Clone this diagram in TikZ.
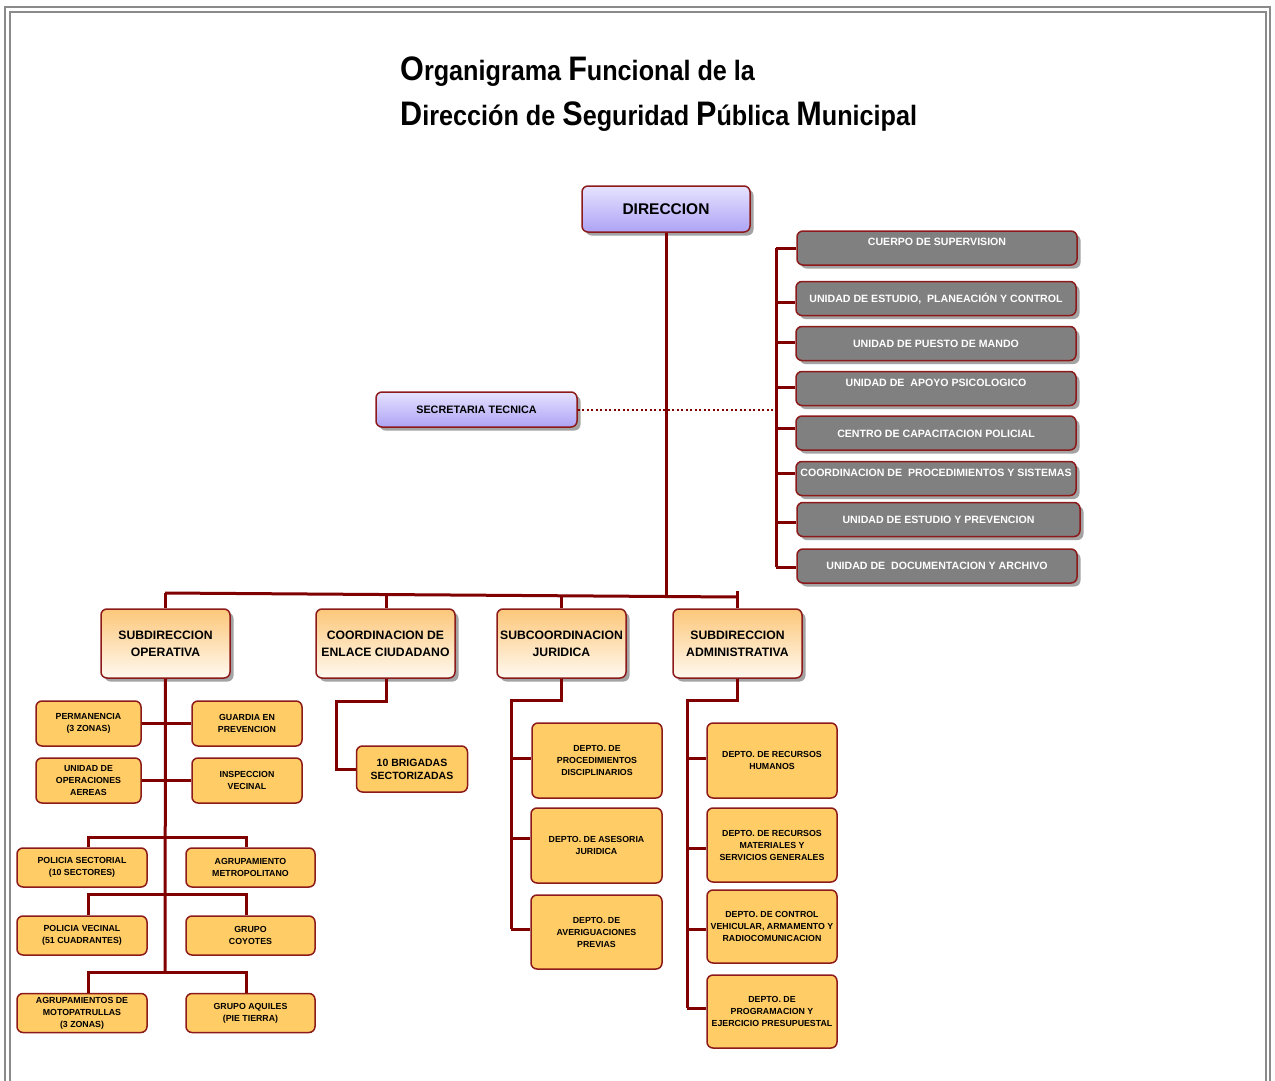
\documentclass[tikz,border=0pt]{standalone}
\usepackage{fontspec}
\setmainfont{Liberation Sans}
\newfontfamily\titlefont{Liberation Sans}[FakeStretch=0.9]
\usetikzlibrary{shadows}
\definecolor{conn}{HTML}{800000}
\definecolor{bord}{HTML}{8C1A1A}
\definecolor{grayfill}{HTML}{808080}
\definecolor{yfill}{HTML}{FFCC66}
\definecolor{lavtop}{HTML}{E6E2FF}
\definecolor{lavbot}{HTML}{ADA3F5}
\definecolor{ortop}{HTML}{FCC77A}
\definecolor{orbot}{HTML}{FFF9F0}
\definecolor{frame}{HTML}{8A8A8A}
\newcommand\BigL[1]{{\fontsize{34}{34}\selectfont #1}}
\begin{document}
\begin{tikzpicture}[x=1pt,y=-1pt,
  boxbase/.style={draw=bord, line width=1.5pt, rounded corners=6pt, align=center, inner sep=0pt, font=\bfseries},
  shad/.style={drop shadow={shadow xshift=3.5pt, shadow yshift=-3.5pt, fill=black!45, opacity=0.8}},
  lavbox/.style={boxbase, shad, top color=lavtop, bottom color=lavbot},
  graybox/.style={boxbase, shad, fill=grayfill, minimum width=280pt, minimum height=34pt},
  graytxt/.style={font=\bfseries\fontsize{10.6}{12}\selectfont, text=white, inner sep=0pt},
  subbox/.style={boxbase, shad, top color=ortop, bottom color=orbot, minimum height=69pt, font=\bfseries\fontsize{12.2}{17}\selectfont},
  ybox/.style={boxbase, fill=yfill, font=\bfseries\fontsize{8.8}{12}\selectfont},
  link/.style={draw=conn, line width=3pt},
  titletxt/.style={anchor=base west, inner sep=0pt, font=\titlefont\bfseries\fontsize{28}{28}\selectfont},
]
\useasboundingbox (0,0) rectangle (1275,1081);
% frame
\draw[frame, line width=1.6pt] (5,7) rectangle (1270,1090);
\draw[frame, line width=1.6pt] (10,12) rectangle (1266,1090);

% title
\node[titletxt] (t1) at (400,81) {\BigL{O}rganigrama \BigL{F}uncional de la};
\node[titletxt] (t2) at (400,125) {\BigL{D}irección de \BigL{S}eguridad \BigL{P}ública \BigL{M}unicipal};

% direccion and secretaria
\node[lavbox, minimum width=168pt, minimum height=46pt, font=\bfseries\fontsize{15.5}{18}\selectfont] (dir) at (666,209) {DIRECCION};
\node[lavbox, minimum width=201pt, minimum height=35pt, font=\bfseries\fontsize{10.8}{12}\selectfont] (sec) at (476.5,409.5) {SECRETARIA TECNICA};

% gray boxes
\node[graybox] (g1) at (937,248) {};
\node[graytxt] (g1t) at (937,242) {CUERPO DE SUPERVISION};
\node[graybox] (g2) at (936,298.5) {};
\node[graytxt] (g2t) at (936,299) {UNIDAD DE ESTUDIO,\ \ PLANEACIÓN Y CONTROL};
\node[graybox] (g3) at (936,343.5) {};
\node[graytxt] (g3t) at (936,343.5) {UNIDAD DE PUESTO DE MANDO};
\node[graybox] (g4) at (936,388.5) {};
\node[graytxt] (g4t) at (936,382.5) {UNIDAD DE\ \ APOYO PSICOLOGICO};
\node[graybox] (g5) at (936,433) {};
\node[graytxt] (g5t) at (936,434) {CENTRO DE CAPACITACION POLICIAL};
\node[graybox] (g6) at (936,478.5) {};
\node[graytxt] (g6t) at (936,473) {COORDINACION DE\ \ PROCEDIMIENTOS Y SISTEMAS};
\node[graybox, minimum width=283pt] (g7) at (938.5,519.5) {};
\node[graytxt] (g7t) at (938.5,520) {UNIDAD DE ESTUDIO Y PREVENCION};
\node[graybox] (g8) at (937,566) {};
\node[graytxt] (g8t) at (937,566) {UNIDAD DE\ \ DOCUMENTACION Y ARCHIVO};

% subdirecciones
\node[subbox, minimum width=129pt] (s1) at (165.5,643.5) {SUBDIRECCION\\OPERATIVA};
\node[subbox, minimum width=139pt] (s2) at (385.5,643.5) {COORDINACION DE\\ENLACE CIUDADANO};
\node[subbox, minimum width=129pt] (s3) at (561.5,643.5) {SUBCOORDINACION\\JURIDICA};
\node[subbox, minimum width=129pt] (s4) at (737.5,643.5) {SUBDIRECCION\\ADMINISTRATIVA};

% operativa column
\node[ybox, minimum width=105pt, minimum height=45pt] (perm) at (88.5,723.5) {PERMANENCIA\\(3 ZONAS)};
\node[ybox, minimum width=110pt, minimum height=45pt] (guard) at (247,723.5) {GUARDIA EN\\PREVENCION};
\node[ybox, minimum width=105pt, minimum height=45pt] (aer) at (88.5,780.5) {UNIDAD DE\\OPERACIONES\\AEREAS};
\node[ybox, minimum width=110pt, minimum height=45pt] (insp) at (247,780.5) {INSPECCION\\VECINAL};
\node[ybox, minimum width=130pt, minimum height=39pt] (psec) at (82,867.5) {POLICIA SECTORIAL\\(10 SECTORES)};
\node[ybox, minimum width=129pt, minimum height=39pt] (agm) at (250.5,867.5) {AGRUPAMIENTO\\METROPOLITANO};
\node[ybox, minimum width=130pt, minimum height=39pt] (pvec) at (82,935.5) {POLICIA VECINAL\\(51 CUADRANTES)};
\node[ybox, minimum width=129pt, minimum height=39pt] (coy) at (250.5,935.5) {GRUPO\\COYOTES};
\node[ybox, minimum width=130pt, minimum height=39pt] (moto) at (82,1013) {AGRUPAMIENTOS DE\\MOTOPATRULLAS\\(3 ZONAS)};
\node[ybox, minimum width=129pt, minimum height=39pt] (aqui) at (250.5,1013) {GRUPO AQUILES\\(PIE TIERRA)};

% enlace
\node[ybox, minimum width=111pt, minimum height=46pt, font=\bfseries\fontsize{10.5}{13}\selectfont] (brig) at (412,769) {10 BRIGADAS\\SECTORIZADAS};

% juridica
\node[ybox, minimum width=130pt, minimum height=75pt] (proc) at (597,760.5) {DEPTO. DE\\PROCEDIMIENTOS\\DISCIPLINARIOS};
\node[ybox, minimum width=131pt, minimum height=75pt] (ases) at (596.5,845.5) {DEPTO. DE ASESORIA\\JURIDICA};
\node[ybox, minimum width=131pt, minimum height=74pt] (aver) at (596.5,932) {DEPTO. DE\\AVERIGUACIONES\\PREVIAS};

% administrativa
\node[ybox, minimum width=130pt, minimum height=75pt] (rh) at (772,760.5) {DEPTO. DE RECURSOS\\HUMANOS};
\node[ybox, minimum width=130pt, minimum height=74pt] (rm) at (772,845) {DEPTO. DE RECURSOS\\MATERIALES Y\\SERVICIOS GENERALES};
\node[ybox, minimum width=130pt, minimum height=73pt] (cv) at (772,926.5) {DEPTO. DE CONTROL\\VEHICULAR, ARMAMENTO Y\\RADIOCOMUNICACION};
\node[ybox, minimum width=130pt, minimum height=73pt] (prog) at (772,1011.5) {DEPTO. DE\\PROGRAMACION Y\\EJERCICIO PRESUPUESTAL};

% ---- connectors ----
% main trunk and bus
\coordinate (busL) at (165,593);
\coordinate (busR) at (737,597);
\coordinate (busM) at (666,596);
\draw[link] (dir.south) -- (busM);
\draw[link] (busL) -- (busR);
\draw[link] (busL) -- (s1.north -| busL);
\coordinate (b2) at (386,594.5);
\coordinate (b3) at (561,596);
\coordinate (b4) at (737,591);
\draw[link] (b2) -- (b2 |- s2.north);
\draw[link] (b3) -- (b3 |- s3.north);
\draw[link] (b4) -- (b4 |- s4.north);

% right bracket
\coordinate (brT) at (776,248);
\coordinate (brB) at (776,567);
\draw[link] (brT) -- (brB);
\foreach \yy/\nm in {248/g1,302/g2,342/g3,387/g4,428/g5,473/g6,522/g7,567/g8}{
  \coordinate (k) at (776,\yy);
  \draw[link] (k) -- (k -| \nm.west);
}
% secretaria dotted
\coordinate (dotEnd) at (774,409.5);
\draw[conn, line width=2pt, dash pattern=on 2pt off 2.5pt] (sec.east) -- (dotEnd);

% operativa
\coordinate (opB) at (165,972);
\draw[link] (s1.south) -- (opB);
\draw[link] (perm.east) -- (guard.west);
\draw[link] (aer.east) -- (insp.west);
\coordinate (r1L) at (88,837); \coordinate (r1R) at (246,837);
\coordinate (r2L) at (88,894); \coordinate (r2R) at (246,894);
\coordinate (r3L) at (88,972); \coordinate (r3R) at (246,972);
\draw[link] (r1L |- psec.north) -- (r1L) -- (r1R) -- (r1R |- agm.north);
\draw[link] (r2L |- pvec.north) -- (r2L) -- (r2R) -- (r2R |- coy.north);
\draw[link] (r3L |- moto.north) -- (r3L) -- (r3R) -- (r3R |- aqui.north);

% enlace
\coordinate (e1) at (386,701);
\coordinate (e2) at (336,701);
\draw[link] (s2.south -| e1) -- (e1) -- (e2) -- (e2 |- brig.west) -- (brig.west);

% juridica
\coordinate (j1) at (561,700);
\coordinate (j2) at (511,700);
\coordinate (j3) at (511,929);
\coordinate (jb1) at (511,758);
\coordinate (jb2) at (511,838);
\draw[link] (s3.south -| j1) -- (j1) -- (j2) -- (j3);
\draw[link] (jb1) -- (jb1 -| proc.west);
\draw[link] (jb2) -- (jb2 -| ases.west);
\draw[link] (j3) -- (j3 -| aver.west);

% administrativa
\coordinate (a1) at (737,700);
\coordinate (a2) at (687,700);
\coordinate (a3) at (687,1008);
\coordinate (ab1) at (687,758);
\coordinate (ab2) at (687,848);
\coordinate (ab3) at (687,929);
\draw[link] (s4.south -| a1) -- (a1) -- (a2) -- (a3);
\draw[link] (ab1) -- (ab1 -| rh.west);
\draw[link] (ab2) -- (ab2 -| rm.west);
\draw[link] (ab3) -- (ab3 -| cv.west);
\draw[link] (a3) -- (a3 -| prog.west);
\end{tikzpicture}
\end{document}
